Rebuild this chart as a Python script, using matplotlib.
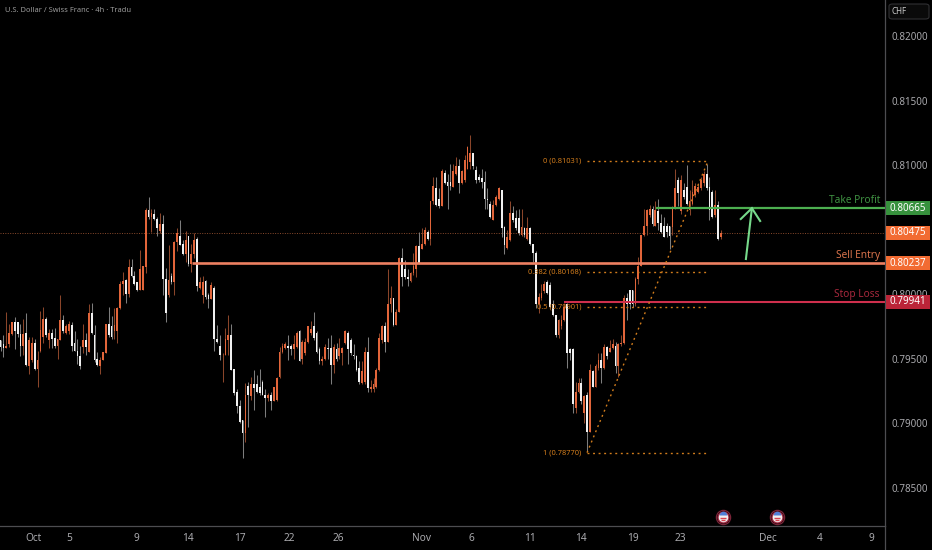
import matplotlib
matplotlib.use("Agg")
import matplotlib.pyplot as plt
from matplotlib.patches import FancyBboxPatch, Rectangle
from matplotlib.markers import MarkerStyle
from matplotlib.transforms import blended_transform_factory
import numpy as np

plt.rcParams['font.family'] = ['Noto Sans', 'DejaVu Sans']

# Candles, in 1/10000 of a franc. O = rising (orange), W = falling (white)
direction = ("WWOOOWWWOW" "OOWOOOWOWW" "OOWOOWWWWO" "WOWWWOOOWW" "OOOOWOWWWO"
             "OOWOWWOWWO" "WOOWWOWOOW" "OOWWOWWWOO" "OWWWWWOWOW" "WWWWOWOOOO"
             "OWWOOWOOOO" "WWWOOWWOWO" "OOWWWWWOOW" "OOOOOWOOWO" "OWWWOOOWOO"
             "WOOWWOWWWO" "OWOOOOWWWW" "WWWOOOWWOO" "WWWOWOWWWO" "OOWWWWOOOW"
             "WWOOWOWOWO" "OWOWOOWOOO" "WWWOOOOOOW" "OWWWWWOOWO" "WWOOOOOOWW"
             "WOWO")
highs = [7964,7968,7986,7977,7978,7982,7978,7977,7981,7985,
         7967,7967,7965,7956,7987,7990,7982,7973,7973,7974,
         7965,7999,7984,7977,7979,7978,7971,7965,7960,7977,
         7970,7992,7993,7976,7955,7951,7955,7977,7990,7983,
         7989,7990,8010,8017,8012,8027,8027,8018,8009,8034,
         8022,8067,8075,8066,8066,8060,8063,8061,8020,8038,
         8016,8041,8051,8057,8042,8049,8045,8039,8047,8044,
         8013,8014,8011,8001,8009,8006,7976,7968,7954,7974,
         7984,7977,7942,7926,7918,7902,7931,7932,7936,7941,
         7937,7942,7933,7926,7923,7924,7928,7936,7959,7962,
         7963,7968,7961,7968,7971,7972,7964,7966,7975,7979,
         7986,7971,7959,7952,7961,7966,7968,7961,7962,7966,
         7959,7972,7971,7966,7961,7953,7948,7948,7959,7967,
         7933,7935,7943,7970,7976,7978,8019,8006,7997,7988,
         8029,8036,8026,8019,8017,8032,8038,8048,8051,8052,
         8050,8072,8091,8091,8082,8097,8096,8093,8101,8101,
         8106,8105,8096,8108,8115,8123,8109,8099,8093,8097,
         8095,8082,8072,8073,8077,8083,8081,8053,8050,8072,
         8068,8065,8066,8066,8052,8060,8052,8039,8033,8001,
         8008,8010,8011,8009,7995,7984,7981,7984,7993,7993,
         7958,7958,7932,7935,7935,7922,7924,7946,7941,7946,
         7954,7954,7961,7960,7964,7965,7963,7962,7968,7999,
         8001,8003,8003,8013,8029,8046,8066,8066,8069,8068,
         8072,8074,8062,8060,8055,8053,8068,8097,8091,8092,
         8086,8100,8081,8088,8086,8086,8091,8095,8101,8091,
         8081,8081,8072,8050]
tops = [7964,7961,7960,7970,7978,7978,7978,7969,7969,7970,
        7964,7962,7962,7949,7972,7981,7981,7970,7970,7966,
        7965,7980,7980,7975,7977,7976,7962,7956,7952,7964,
        7964,7985,7985,7968,7950,7949,7955,7977,7977,7975,
        7976,7989,8008,8010,8011,8021,8021,8014,8009,8019,
        8022,8065,8065,8063,8062,8058,8054,8054,8012,8011,
        8014,8040,8047,8045,8039,8042,8045,8031,8042,8043,
        8009,8009,8010,7999,8007,8005,7965,7960,7953,7965,
        7968,7968,7942,7924,7913,7902,7922,7929,7930,7930,
        7930,7928,7932,7922,7922,7922,7928,7935,7955,7960,
        7961,7960,7960,7961,7970,7971,7963,7963,7975,7973,
        7975,7970,7957,7950,7959,7958,7958,7959,7957,7958,
        7958,7971,7970,7964,7953,7952,7943,7940,7955,7955,
        7928,7930,7941,7966,7975,7975,7992,7997,7997,7986,
        8028,8028,8019,8013,8016,8022,8037,8037,8039,8050,
        8048,8072,8084,8082,8074,8095,8094,8087,8087,8095,
        8099,8099,8095,8104,8114,8109,8109,8096,8091,8090,
        8087,8074,8070,8069,8075,8082,8081,8052,8044,8063,
        8063,8059,8059,8052,8051,8051,8051,8039,8032,7998,
        8001,8008,8009,8007,7992,7984,7980,7980,7990,7992,
        7957,7957,7924,7931,7931,7921,7922,7941,7940,7944,
        7949,7949,7959,7959,7958,7961,7960,7961,7962,7997,
        7997,8003,8003,8012,8022,8046,8053,8065,8066,8066,
        8065,8064,8055,8053,8053,8053,8067,8082,8088,8088,
        8081,8083,8072,8079,8084,8083,8088,8093,8093,8083,
        8079,8069,8069,8047]
bottoms = [7959,7958,7958,7961,7969,7971,7969,7960,7960,7945,
           7944,7949,7942,7942,7956,7967,7968,7964,7965,7960,
           7960,7964,7971,7970,7971,7960,7956,7952,7944,7959,
           7959,7955,7970,7949,7945,7944,7949,7954,7968,7967,
           7971,7971,7989,8008,8000,8000,8014,8008,8003,8003,
           8003,8021,8060,8060,8058,8051,8049,8012,7985,7999,
           8009,8009,8040,8038,8031,8031,8023,8023,8031,8006,
           8005,7999,7998,7996,7996,7965,7963,7953,7953,7953,
           7964,7941,7923,7913,7901,7892,7892,7922,7921,7927,
           7924,7923,7922,7919,7919,7917,7917,7918,7936,7955,
           7958,7958,7957,7957,7959,7948,7950,7954,7963,7970,
           7966,7955,7948,7948,7950,7957,7945,7945,7950,7952,
           7954,7962,7957,7954,7952,7941,7932,7931,7932,7927,
           7926,7926,7928,7941,7964,7963,7963,7992,7976,7976,
           7986,8013,8013,8012,8010,8016,8019,8024,8035,8039,
           8043,8043,8072,8069,8068,8068,8086,8084,8084,8083,
           8093,8086,8086,8088,8097,8102,8099,8088,8088,8087,
           8074,8073,8060,8057,8069,8074,8051,8038,8036,8042,
           8057,8051,8047,8046,8046,8043,8039,8032,7992,7992,
           7997,8002,8001,7990,7984,7968,7968,7975,7980,7954,
           7954,7915,7912,7924,7917,7908,7893,7893,7928,7928,
           7943,7943,7943,7952,7955,7958,7944,7944,7961,7962,
           7992,7992,7992,7992,8012,8022,8046,8053,8061,8054,
           8053,8055,8048,8044,8048,8045,8052,8067,8078,8064,
           8075,8070,8065,8070,8077,8079,8082,8086,8082,8065,
           8060,8061,8043,8044]
lows = [7956,7951,7958,7959,7968,7957,7967,7952,7953,7944,
        7938,7947,7941,7928,7955,7962,7967,7958,7958,7958,
        7950,7964,7970,7969,7969,7956,7956,7946,7942,7954,
        7953,7955,7969,7947,7944,7938,7949,7954,7967,7965,
        7965,7962,7988,7999,7993,7998,8013,8007,8002,8003,
        8003,8016,8058,8048,8057,8045,8047,7999,7978,7998,
        8008,7999,8033,8038,8030,8025,8022,8017,8028,8002,
        8004,7993,7996,7989,7996,7956,7962,7949,7932,7953,
        7953,7941,7922,7908,7900,7873,7885,7897,7918,7910,
        7923,7922,7922,7905,7917,7910,7917,7917,7935,7954,
        7957,7949,7953,7950,7958,7948,7946,7953,7962,7968,
        7964,7954,7946,7945,7949,7950,7930,7939,7948,7950,
        7945,7961,7946,7953,7950,7940,7930,7930,7930,7924,
        7924,7924,7927,7940,7962,7955,7963,7986,7975,7976,
        7986,8006,8012,8006,8009,8015,8013,8023,8035,8038,
        8042,8038,8070,8068,8067,8068,8085,8066,8081,8083,
        8092,8078,8085,8087,8097,8097,8097,8086,8087,8082,
        8066,8066,8059,8057,8068,8073,8044,8031,8035,8041,
        8056,8050,8046,8045,8044,8042,8038,8025,7989,7985,
        7995,8001,8000,7989,7983,7967,7966,7973,7979,7943,
        7949,7908,7908,7923,7915,7900,7878,7893,7928,7928,
        7941,7931,7942,7950,7955,7957,7939,7936,7960,7961,
        7980,7988,7990,7991,8008,8022,8045,8046,8060,8053,
        8053,8050,8047,8044,8044,8035,8046,8066,8068,8062,
        8074,8069,8061,8069,8075,8078,8081,8084,8081,8057,
        8059,8060,8042,8043]

# 0.80500 sits behind the 0.80475 price box in the reference
y_ticks = [0.82, 0.815, 0.81, 0.80, 0.795, 0.79, 0.785]
x_tick_pos = [11.6, 24.2, 47.8, 66, 84.3, 101.5, 119, 148.2, 165.4, 186.2,
              204, 222.3, 238.9, 269.8, 288, 306]
x_tick_lab = ["Oct", "5", "9", "14", "17", "22", "26", "Nov", "6", "11",
              "14", "19", "23", "Dec", "4", "9"]

take_profit, last_price, sell_entry, stop_loss = 0.80665, 0.80475, 0.80237, 0.79941
fib_levels = [0.81031, 0.80168, 0.79901, 0.78770]
fib_names = ["0", "0.382", "0.5", "1"]
fib_x = (206.2, 248.7)
level_starts = dict(tp=230.4, se=67.4, sl=198.0)
event_pos = [253.9, 273.0]

BG = "#000000"
ORANGE, WHITE = "#e2653a", "#f0f0f0"
ORANGE_W, WHITE_W = "#8a452a", "#7d7d7d"
FIB = "#d17c1c"
GREEN, GREEN_BOX, GREEN_TXT = "#4caf50", "#37913d", "#3f9142"
SALMON, SALMON_BOX, SALMON_TXT = "#ee8062", "#f26b32", "#d9734c"
RED, RED_BOX, RED_TXT = "#cf2f4d", "#bb2438", "#a5283c"
GRAY = "#a9a9ad"

W, H = 932, 550
fig = plt.figure(figsize=(W / 100, H / 100), dpi=100, facecolor=BG)
ax = fig.add_axes([0, 24 / H, 885 / W, 526 / H], facecolor=BG)
ax.set_xlim(0, 885 / 2.847)
ax.set_ylim(0.80 - 232 / 12900, 0.80 + 294 / 12900)

idx = np.arange(len(highs)) + 0.2
hi = np.array(highs) / 10000
lo = np.array(lows) / 10000
top = np.array(tops) / 10000
bot = np.array(bottoms) / 10000
up = np.array([c == "O" for c in direction])

ax.vlines(idx[up], lo[up], hi[up], color=ORANGE_W, lw=0.75, zorder=2)
ax.vlines(idx[~up], lo[~up], hi[~up], color=WHITE_W, lw=0.75, zorder=2)
ax.bar(idx[up], (top - bot)[up], bottom=bot[up], width=0.62, color=ORANGE, lw=0, zorder=3)
ax.bar(idx[~up], (top - bot)[~up], bottom=bot[~up], width=0.62, color=WHITE, lw=0, zorder=3)

xmax = ax.get_xlim()[1]
ax.plot([0, xmax], [last_price] * 2, color="#8a4a2c", lw=0.7, ls=(0, (1, 1.5)), zorder=1)
ax.plot([level_starts["se"], xmax], [sell_entry] * 2, color=SALMON, lw=1.9, zorder=5, solid_capstyle="butt")
ax.plot([level_starts["tp"], xmax], [take_profit] * 2, color=GREEN, lw=1.6, zorder=5, solid_capstyle="butt")
ax.plot([level_starts["sl"], xmax], [stop_loss] * 2, color=RED, lw=1.5, zorder=5, solid_capstyle="butt")

# Fibonacci retracement
dots = (0, (1.4, 2.6))
for lev, name in zip(fib_levels, fib_names):
    ax.plot(fib_x, [lev, lev], color=FIB, lw=1.0, ls=dots, zorder=6)
    ax.text(fib_x[0] - 2.0, lev, f"{name} ({lev:.5f})", color=FIB, fontsize=5.4,
            ha="right", va="center", zorder=6)
ax.plot(fib_x, [fib_levels[3], fib_levels[0]], color=FIB, lw=1.0, ls=dots, zorder=6)

# Arrow
arrow_c = "#76d98a"
ax.plot([262.0, 264.1], [0.80 + (294 - 259) / 12900, take_profit], color=arrow_c, lw=1.5, zorder=7)
ax.plot([260.2, 264.1, 267.0], [0.80 + (294 - 219) / 12900, take_profit, 0.80 + (294 - 221) / 12900],
        color=arrow_c, lw=1.5, zorder=7, solid_joinstyle="miter")

# Axes
for s in ("top", "left"):
    ax.spines[s].set_visible(False)
for s in ("right", "bottom"):
    ax.spines[s].set_color("#4d4d50")
    ax.spines[s].set_linewidth(0.9)
ax.yaxis.tick_right()
ax.set_yticks(y_ticks)
ax.set_yticklabels([f"{v:.5f}" for v in y_ticks], fontsize=7.1, color=GRAY)
ax.set_xticks(x_tick_pos)
ax.set_xticklabels(x_tick_lab, fontsize=7.3, color=GRAY)
for lab, txt in zip(ax.get_xticklabels(), x_tick_lab):
    if txt in ("Oct", "Nov", "Dec"):
        lab.set_fontweight("bold")
ax.tick_params(axis="both", length=0)
ax.tick_params(axis="y", pad=5)
ax.tick_params(axis="x", pad=5)
ax.set_axisbelow(True)

# Extend the price-scale line to the bottom of the picture
fig.add_artist(plt.Line2D([885 / W, 885 / W], [0, 24 / H], color="#4d4d50", lw=0.9))

# Level labels on the chart and boxes on the price scale
trans = blended_transform_factory(fig.transFigure, ax.transData)
boxes = [(take_profit, GREEN_BOX, "Take Profit", GREEN_TXT, 200),
         (last_price, SALMON_BOX, None, None, None),
         (sell_entry, SALMON_BOX, "Sell Entry", SALMON_TXT, 255),
         (stop_loss, RED_BOX, "Stop Loss", RED_TXT, 294)]
half = 7 / 12900
for price, col, name, tcol, ypix in boxes:
    ax.add_patch(Rectangle((885.5 / W, price - half), 44 / W, 2 * half, transform=trans,
                           facecolor=col, edgecolor="none", clip_on=False, zorder=10))
    ax.text(907.5 / W, price, f"{price:.5f}", transform=trans, color="white", fontsize=7.1,
            ha="center", va="center", clip_on=False, zorder=11)
    if name:
        ax.text(880 / W, 0.80 + (294 - ypix) / 12900, name, transform=trans, color=tcol,
                fontsize=7.3, ha="right", va="center", zorder=8)

# Title and currency button
fig.text(5 / W, 1 - 10 / H, "U.S. Dollar / Swiss Franc · 4h · Tradu", color="#9b9b9b",
         fontsize=5.4, ha="left", va="center")
fig.add_artist(FancyBboxPatch((889 / W, 1 - 19 / H), 40 / W, 15 / H,
                              boxstyle="round,pad=0,rounding_size=0.004",
                              transform=fig.transFigure, facecolor="#0a0a0a",
                              edgecolor="#303033", lw=0.8))
fig.text(899 / W, 1 - 11.5 / H, "CHF", color="#c8c8c8", fontsize=5.8, fontweight="bold",
         ha="center", va="center")

# Economic event flags
ev_y = [0.80 - 223 / 12900] * len(event_pos)
ax.scatter(event_pos, ev_y, s=105, facecolor=BG, edgecolor="#7a2438", lw=0.9, zorder=8)
ax.scatter(event_pos, ev_y, s=62, facecolor="#f0eef0", edgecolor="#a3263e", lw=0.9, zorder=9)
ax.scatter(event_pos, [v - 1.2 / 12900 for v in ev_y], s=14, marker="_", color="#d8434f", lw=1.0, zorder=10)
ax.scatter(event_pos, [v - 3.2 / 12900 for v in ev_y], s=9, marker="_", color="#d8434f", lw=1.0, zorder=10)
ax.scatter(event_pos, [v + 2 / 12900 for v in ev_y], s=30, marker=MarkerStyle("o", fillstyle="top"),
           color="#4f7fd8", lw=0, zorder=11)

fig.savefig("out.png", dpi=100, facecolor=BG)
